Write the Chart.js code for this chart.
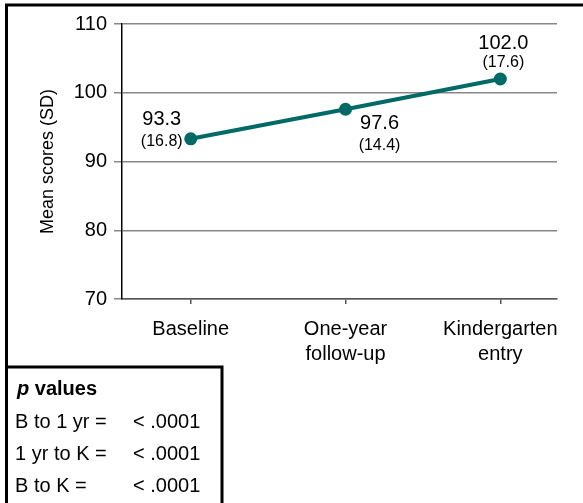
<!DOCTYPE html>
<html>
<head>
<meta charset="utf-8">
<script src="https://cdn.jsdelivr.net/npm/chart.js@4"></script>
<style>
  html, body { margin: 0; padding: 0; background: #ffffff; }
  #wrap { width: 583px; height: 503px; position: relative; }
</style>
</head>
<body>
<div id="wrap"><canvas id="c" width="583" height="503"></canvas></div>
<script>
// ---- data ----
const categories = [['Baseline'], ['One-year', 'follow-up'], ['Kindergarten', 'entry']];
const meanScores = [93.3, 97.6, 102.0];
const sdValues = [16.8, 14.4, 17.6];
const yTicks = [70, 80, 90, 100, 110];
const pComparisons = ['B to 1 yr =', '1 yr to K =', 'B to K ='];
const pValues = ['< .0001', '< .0001', '< .0001'];

// ---- styles ----
const LINE_COLOR = '#006a66';
const FONT = '"Liberation Sans", Arial, Helvetica, sans-serif';
const labelOffsets = [
  { mean: [-29, -19], sd: [-29, 3] },
  { mean: [34, 14], sd: [34, 36] },
  { mean: [3, -36], sd: [3, -16] }
];

const pointLabelPlugin = {
  id: 'pointLabels',
  afterDatasetsDraw(chart) {
    const ctx = chart.ctx;
    const meta = chart.getDatasetMeta(0);
    ctx.save();
    ctx.fillStyle = '#000';
    ctx.textAlign = 'center';
    ctx.textBaseline = 'middle';
    meta.data.forEach((pt, i) => {
      const o = labelOffsets[i];
      ctx.font = '20px ' + FONT;
      ctx.fillText(meanScores[i].toFixed(1), pt.x + o.mean[0], pt.y + o.mean[1]);
      ctx.font = '16px ' + FONT;
      ctx.fillText('(' + sdValues[i].toFixed(1) + ')', pt.x + o.sd[0], pt.y + o.sd[1]);
    });
    ctx.restore();
  }
};

const framePlugin = {
  id: 'frame',
  beforeDraw(chart) {
    const ctx = chart.ctx;
    ctx.save();
    ctx.fillStyle = '#fff';
    ctx.fillRect(0, 0, chart.width, chart.height);
    ctx.restore();
  },
  afterDraw(chart) {
    const ctx = chart.ctx;
    ctx.save();
    ctx.strokeStyle = '#000';
    ctx.lineWidth = 3;
    // outer frame
    ctx.strokeRect(6.5, 5, chart.width + 20, chart.height + 20);
    // p-values box
    ctx.beginPath();
    ctx.moveTo(6.5, 367);
    ctx.lineTo(222, 367);
    ctx.lineTo(222, chart.height + 10);
    ctx.stroke();
    // p-values text
    ctx.fillStyle = '#000';
    ctx.textBaseline = 'alphabetic';
    ctx.textAlign = 'left';
    ctx.font = 'bold italic 20px ' + FONT;
    ctx.fillText('p', 17, 395);
    const pw = ctx.measureText('p ').width;
    ctx.font = 'bold 20px ' + FONT;
    ctx.fillText('values', 17 + pw, 395);
    ctx.font = '20px ' + FONT;
    pComparisons.forEach((t, i) => {
      const y = 428 + i * 32;
      ctx.fillText(t, 15, y);
      ctx.fillText(pValues[i], 133, y);
    });
    ctx.restore();
  }
};

new Chart(document.getElementById('c'), {
  type: 'line',
  data: {
    datasets: [{
      data: meanScores.map((v, i) => ({ x: i, y: v })),
      borderColor: LINE_COLOR,
      backgroundColor: LINE_COLOR,
      borderWidth: 4,
      pointRadius: 4.5,
      pointHoverRadius: 4.5,
      pointBackgroundColor: LINE_COLOR,
      pointBorderColor: LINE_COLOR,
      tension: 0,
      fill: false
    }]
  },
  options: {
    responsive: false,
    animation: false,
    devicePixelRatio: 1,
    layout: { padding: { top: 24, right: 26, left: 0, bottom: 0 } },
    plugins: { legend: { display: false }, tooltip: { enabled: false } },
    scales: {
      x: {
        type: 'linear',
        min: -0.444,
        max: 2.366,
        offset: false,
        afterBuildTicks(scale) {
          scale.ticks = categories.map((_, i) => ({ value: i }));
        },
        afterFit(scale) { scale.height = 204; },
        ticks: {
          autoSkip: false,
          maxRotation: 0,
          padding: 13,
          color: '#000',
          font: { family: FONT, size: 20, lineHeight: 1.25 },
          callback: (v) => categories[v]
        },
        grid: { drawOnChartArea: false, drawTicks: true, tickLength: 5, color: '#555', lineWidth: 1.5 },
        border: { display: true, color: '#555', width: 1.5 }
      },
      y: {
        min: 70,
        max: 110,
        afterBuildTicks(scale) {
          scale.ticks = yTicks.map(v => ({ value: v }));
        },
        afterFit(scale) { scale.width = 122; },
        ticks: {
          padding: 7,
          color: '#000',
          font: { family: FONT, size: 20 }
        },
        grid: { color: '#888', lineWidth: 1.5, tickLength: 8 },
        border: { display: true, color: '#000', width: 1.5 },
        title: {
          display: true,
          text: 'Mean scores (SD)',
          color: '#000',
          font: { family: FONT, size: 18 },
          padding: { top: 37, bottom: 0 }
        }
      }
    }
  },
  plugins: [framePlugin, pointLabelPlugin]
});
</script>
</body>
</html>
